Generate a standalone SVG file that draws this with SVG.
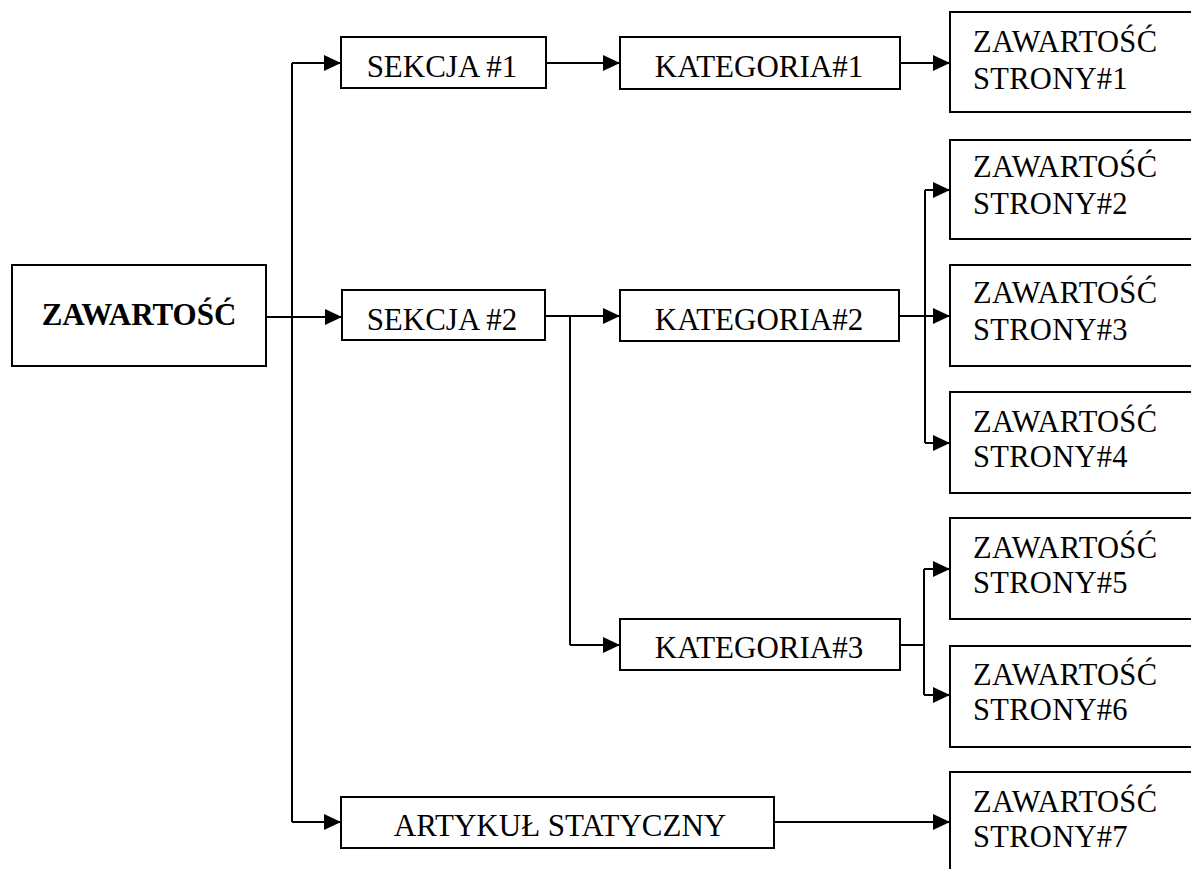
<svg xmlns="http://www.w3.org/2000/svg" width="1191" height="869" viewBox="0 0 1191 869">
<style>
.box{fill:#fff;stroke:#000;stroke-width:2}
.t{font-family:'Liberation Serif','Tinos','Times New Roman','DejaVu Serif',serif;font-size:31px;fill:#000}
.p{font-size:30.5px;letter-spacing:0.3px}
.c{text-anchor:middle}
.b{font-weight:bold}
.ln{fill:none;stroke:#000;stroke-width:2}
.ar{fill:none;stroke:#000;stroke-width:2;marker-end:url(#ah)}
</style>
<defs>
<marker id="ah" markerUnits="userSpaceOnUse" markerWidth="17" markerHeight="17" refX="17" refY="8" orient="auto">
<path d="M0,0 L17,8 L0,16 z" fill="#000"/>
</marker>
</defs>
<rect width="1191" height="869" fill="#fff"/>
<g id="connectors">
<path class="ln" d="M266,317 H292 M292,63 V822"/>
<path class="ar" d="M292,63 H341"/>
<path class="ar" d="M292,317 H342"/>
<path class="ar" d="M292,822 H341"/>
<path class="ar" d="M546,63 H620"/>
<path class="ar" d="M900,63 H950"/>
<path class="ar" d="M545,316 H620"/>
<path class="ln" d="M570,316 V645"/>
<path class="ar" d="M570,645 H620"/>
<path class="ar" d="M899,316 H950"/>
<path class="ln" d="M925,190 V443"/>
<path class="ar" d="M925,190 H950"/>
<path class="ar" d="M925,443 H950"/>
<path class="ln" d="M900,645 H924 M924,569 V695"/>
<path class="ar" d="M924,569 H950"/>
<path class="ar" d="M924,695 H950"/>
<path class="ar" d="M774,822 H950"/>
</g>
<g id="root">
<rect class="box" x="12" y="265" width="254" height="101"/>
<text class="t c b" x="139" y="325">ZAWARTOŚĆ</text>
</g>
<g id="sekcja1">
<rect class="box" x="341" y="37" width="205" height="51"/>
<text class="t c" x="442" y="77">SEKCJA #1</text>
</g>
<g id="sekcja2">
<rect class="box" x="342" y="290" width="203" height="50"/>
<text class="t c" x="442" y="330">SEKCJA #2</text>
</g>
<g id="kategoria1">
<rect class="box" x="620" y="37" width="280" height="52"/>
<text class="t c" x="759" y="77">KATEGORIA#1</text>
</g>
<g id="kategoria2">
<rect class="box" x="620" y="290" width="279" height="51"/>
<text class="t c" x="759" y="330">KATEGORIA#2</text>
</g>
<g id="kategoria3">
<rect class="box" x="620" y="619" width="280" height="51"/>
<text class="t c" x="759" y="658">KATEGORIA#3</text>
</g>
<g id="artykul">
<rect class="box" x="341" y="797" width="433" height="51"/>
<text class="t c" x="560" y="836">ARTYKUŁ STATYCZNY</text>
</g>
<g id="strona1">
<rect class="box" x="950" y="12" width="260" height="100"/>
<text class="t p" x="973" y="52">ZAWARTOŚĆ</text>
<text class="t p" x="973" y="89">STRONY#1</text>
</g>
<g id="strona2">
<rect class="box" x="950" y="140" width="260" height="99"/>
<text class="t p" x="973" y="177">ZAWARTOŚĆ</text>
<text class="t p" x="973" y="214">STRONY#2</text>
</g>
<g id="strona3">
<rect class="box" x="950" y="265" width="260" height="101"/>
<text class="t p" x="973" y="303">ZAWARTOŚĆ</text>
<text class="t p" x="973" y="340">STRONY#3</text>
</g>
<g id="strona4">
<rect class="box" x="950" y="392" width="260" height="101"/>
<text class="t p" x="973" y="432">ZAWARTOŚĆ</text>
<text class="t p" x="973" y="467">STRONY#4</text>
</g>
<g id="strona5">
<rect class="box" x="950" y="518" width="260" height="101"/>
<text class="t p" x="973" y="558">ZAWARTOŚĆ</text>
<text class="t p" x="973" y="593">STRONY#5</text>
</g>
<g id="strona6">
<rect class="box" x="950" y="646" width="260" height="101"/>
<text class="t p" x="973" y="685">ZAWARTOŚĆ</text>
<text class="t p" x="973" y="720">STRONY#6</text>
</g>
<g id="strona7">
<rect class="box" x="950" y="772" width="260" height="110"/>
<text class="t p" x="973" y="812">ZAWARTOŚĆ</text>
<text class="t p" x="973" y="847">STRONY#7</text>
</g>
</svg>
